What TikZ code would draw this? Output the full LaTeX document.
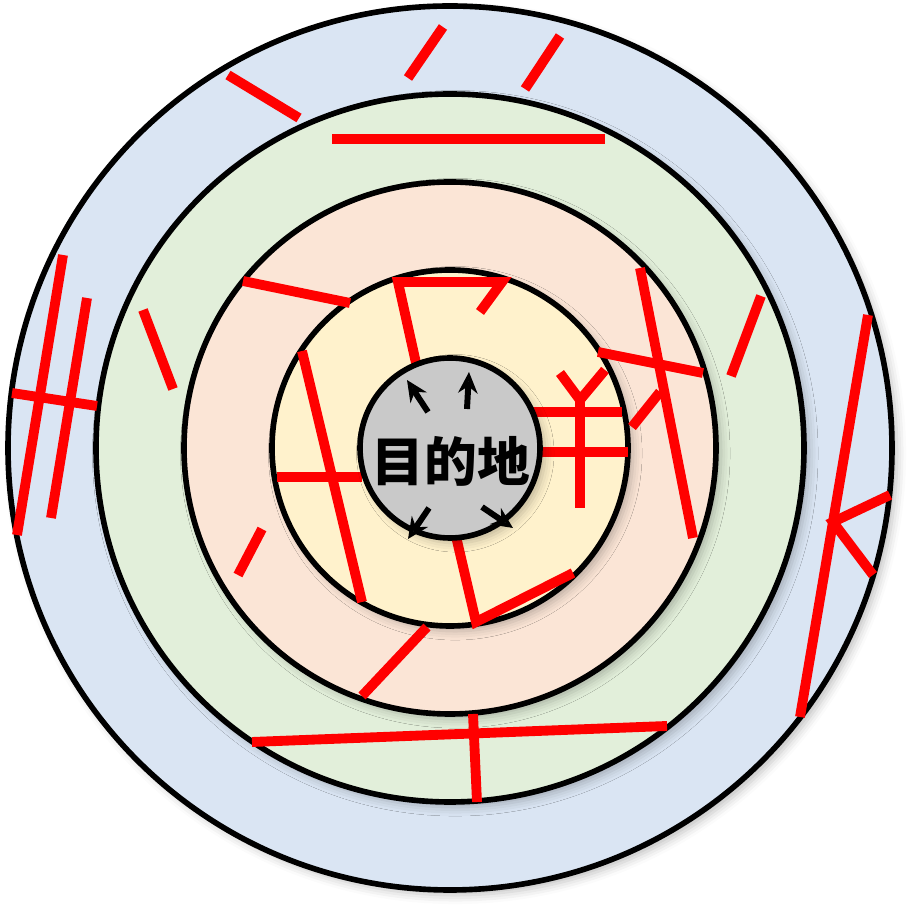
\documentclass[tikz,border=0pt]{standalone}
\usepackage{fontspec}
\newfontfamily\cjk{Noto Sans CJK SC}
\usetikzlibrary{arrows.meta,shadows.blur}

\definecolor{ringblue}{HTML}{DAE5F3}
\definecolor{ringgreen}{HTML}{E2EFDA}
\definecolor{ringpink}{HTML}{FBE5D6}
\definecolor{ringgold}{HTML}{FFF2CC}
\definecolor{ringgray}{HTML}{C9C9C9}

\tikzset{
  ring/.style={draw=black, line width=1.6pt,
    blur shadow={shadow xshift=1.5pt, shadow yshift=-1.5pt, shadow blur radius=2.5pt, shadow opacity=25}},
  stroke/.style={draw=red, line width=2.8pt},
  outarrow/.style={-{Stealth[length=6pt, width=5.5pt]}, line width=1.7pt}
}

\begin{document}
\begin{tikzpicture}[x=0.01cm, y=-0.01cm]
  \useasboundingbox (0,0) rectangle (908,907);
  \coordinate (O) at (450,448);

  % 同心圆
  \draw[ring, fill=ringblue]  (O) circle (442);
  \draw[ring, fill=ringgreen] (O) circle (354);
  \draw[ring, fill=ringpink]  (O) circle (266);
  \draw[ring, fill=ringgold]  (O) circle (178);

  % 红色笔画
  \draw[stroke] (228,75) -- (299,118);
  \draw[stroke] (408,78) -- (443,27);
  \draw[stroke] (525,89) -- (560,36);
  \draw[stroke] (332,139) -- (605,139);
  \draw[stroke] (63,255) -- (17,535);
  \draw[stroke] (87,298) -- (51,518);
  \draw[stroke] (12,393) -- (97,406);
  \draw[stroke] (143,310) -- (173,389);
  \draw[stroke] (243,281) -- (350,303);
  \draw[stroke] (418,372) -- (398,282) -- (502,282) -- (480,312);
  \draw[stroke] (302,351) -- (362,602);
  \draw[stroke] (277,477) -- (362,477);
  \draw[stroke] (262,529) -- (238,575);
  \draw[stroke] (455,532) -- (476,622) -- (573,573);
  \draw[stroke] (427,627) -- (362,696);
  \draw[stroke] (252,742) -- (667,726);
  \draw[stroke] (473,714) -- (477,802);
  \draw[stroke] (640,268) -- (693,538);
  \draw[stroke] (598,352) -- (703,373);
  \draw[stroke] (660,392) -- (632,427);
  \draw[stroke] (761,296) -- (731,376);
  \draw[stroke] (868,315) -- (800,717);
  \draw[stroke] (890,495) -- (833,522) -- (873,575);
  % 人民币符号
  \draw[stroke] (560,373) -- (580,400) -- (605,370);
  \draw[stroke] (580,400) -- (580,508);
  \draw[stroke] (530,412) -- (622,412);
  \draw[stroke] (538,452) -- (628,452);

  % 中心
  \draw[ring, fill=ringgray] (O) circle (90);
  \node[font=\cjk\bfseries\fontsize{15pt}{16pt}\selectfont] (goal) at (451,461) {目的地};

  \coordinate (ul) at (428,412);
  \coordinate (up) at (467,409);
  \coordinate (dl) at (429,508);
  \coordinate (dr) at (482,507);
  \draw[outarrow] (ul) -- (407,380);
  \draw[outarrow] (up) -- (469,372);
  \draw[outarrow] (dl) -- (408,539);
  \draw[outarrow] (dr) -- (513,528);
\end{tikzpicture}
\end{document}
